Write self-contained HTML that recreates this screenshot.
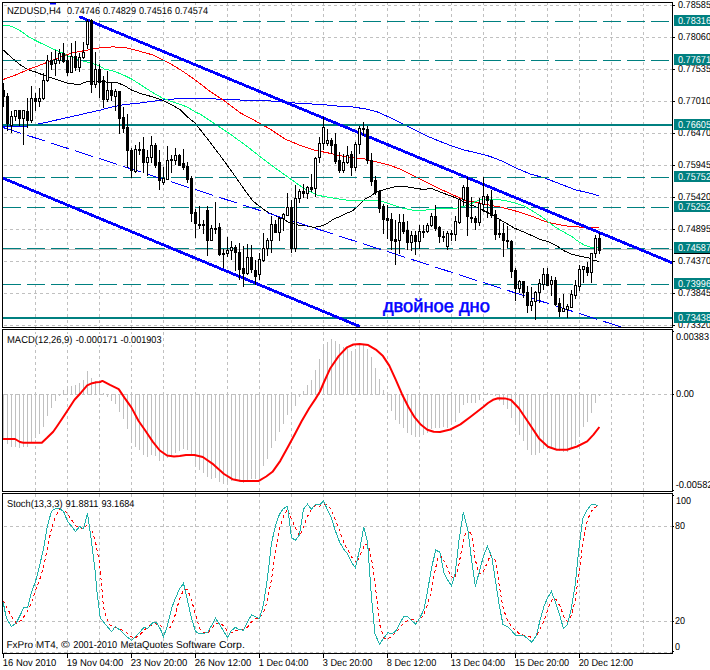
<!DOCTYPE html>
<html><head><meta charset="utf-8"><title>NZDUSD,H4</title>
<style>html,body{margin:0;padding:0;background:#fff;}body{width:710px;height:670px;overflow:hidden;font-family:"Liberation Sans", sans-serif;}svg{display:block}</style>
</head><body>
<svg width="710" height="670" viewBox="0 0 710 670" font-family='"Liberation Sans", sans-serif' font-size="10.0" text-rendering="geometricPrecision">
<rect x="0" y="0" width="710" height="670" fill="#fff"/>
<g stroke="#c0c0c0" stroke-width="1" stroke-dasharray="3 3" shape-rendering="crispEdges" fill="none">
<line x1="35.5" y1="2" x2="35.5" y2="653"/>
<line x1="67.5" y1="2" x2="67.5" y2="653"/>
<line x1="99.5" y1="2" x2="99.5" y2="653"/>
<line x1="131.5" y1="2" x2="131.5" y2="653"/>
<line x1="163.5" y1="2" x2="163.5" y2="653"/>
<line x1="195.5" y1="2" x2="195.5" y2="653"/>
<line x1="227.5" y1="2" x2="227.5" y2="653"/>
<line x1="259.5" y1="2" x2="259.5" y2="653"/>
<line x1="291.5" y1="2" x2="291.5" y2="653"/>
<line x1="323.5" y1="2" x2="323.5" y2="653"/>
<line x1="355.5" y1="2" x2="355.5" y2="653"/>
<line x1="387.5" y1="2" x2="387.5" y2="653"/>
<line x1="419.5" y1="2" x2="419.5" y2="653"/>
<line x1="451.5" y1="2" x2="451.5" y2="653"/>
<line x1="483.5" y1="2" x2="483.5" y2="653"/>
<line x1="515.5" y1="2" x2="515.5" y2="653"/>
<line x1="547.5" y1="2" x2="547.5" y2="653"/>
<line x1="579.5" y1="2" x2="579.5" y2="653"/>
<line x1="611.5" y1="2" x2="611.5" y2="653"/>
<line x1="643.5" y1="2" x2="643.5" y2="653"/>
<line x1="4" y1="5.5" x2="672" y2="5.5"/>
<line x1="4" y1="37.5" x2="672" y2="37.5"/>
<line x1="4" y1="69.5" x2="672" y2="69.5"/>
<line x1="4" y1="101.5" x2="672" y2="101.5"/>
<line x1="4" y1="133.5" x2="672" y2="133.5"/>
<line x1="4" y1="165.5" x2="672" y2="165.5"/>
<line x1="4" y1="197.5" x2="672" y2="197.5"/>
<line x1="4" y1="229.5" x2="672" y2="229.5"/>
<line x1="4" y1="261.5" x2="672" y2="261.5"/>
<line x1="4" y1="293.5" x2="672" y2="293.5"/>
<line x1="4" y1="325.5" x2="672" y2="325.5"/>
<line x1="4" y1="394.5" x2="672" y2="394.5"/>
<line x1="4" y1="526.5" x2="672" y2="526.5"/>
<line x1="4" y1="621.5" x2="672" y2="621.5"/>
<line x1="4" y1="652.5" x2="672" y2="652.5"/>
</g>
<clipPath id="cm"><rect x="3" y="3" width="669" height="324"/></clipPath>
<g clip-path="url(#cm)">
<rect x="3" y="249" width="669" height="1" fill="#c0c0c0"/>
<polyline points="3.0,126.5 28.0,126.0 34.0,125.0 41.0,123.4 50.0,121.5 60.0,119.2 70.0,117.0 80.0,114.7 90.0,112.4 100.0,110.2 110.0,107.4 124.4,104.6 138.6,103.2 152.7,101.3 164.0,99.9 175.4,98.9 186.8,98.5 200.0,98.2 220.0,99.2 245.0,100.2 270.0,100.9 290.0,102.7 310.0,103.9 330.0,105.2 340.0,106.3 352.5,107.0 365.0,108.8 377.6,112.0 390.0,117.6 402.7,123.8 415.0,130.1 427.7,136.4 440.0,141.4 452.8,146.4 465.0,150.2 478.0,153.2 490.0,156.4 503.0,161.4 515.0,167.6 530.0,173.9 545.0,178.1 560.0,183.9 575.0,189.7 587.7,192.7 599.0,195.7" fill="none" stroke="#0000ff" stroke-width="1" shape-rendering="crispEdges"/>
<polyline points="3.0,49.8 14.0,59.7 21.0,65.4 28.0,69.6 35.5,72.0 42.6,74.9 49.6,77.4 56.7,79.5 68.0,83.4 79.4,84.5 86.5,81.7 91.0,81.0 101.7,81.9 116.0,82.3 124.4,85.5 131.5,90.0 142.8,94.3 152.7,96.8 162.7,100.4 172.6,105.3 181.0,110.3 188.0,117.4 195.0,123.0 207.6,139.0 220.0,155.3 232.7,172.9 245.0,190.4 248.4,195.0 252.7,200.7 256.9,204.2 261.2,207.5 265.4,210.6 269.7,213.4 274.0,214.9 278.2,217.0 282.5,218.4 286.0,220.5 288.5,222.5 294.2,223.6 298.4,225.0 307.0,226.0 314.0,227.4 322.6,225.6 328.2,222.8 333.9,218.9 341.0,216.1 346.7,213.3 352.3,210.9 356.6,207.2 360.9,202.9 365.1,199.1 370.8,196.2 376.0,192.0 383.0,189.9 390.2,188.0 397.3,186.3 404.4,186.3 411.5,187.8 418.6,188.5 422.8,189.6 429.9,188.5 432.7,188.9 438.4,191.3 444.0,193.4 449.8,195.6 455.4,197.7 459.7,199.8 464.0,202.0 469.6,204.8 475.3,206.5 483.3,210.4 490.4,214.0 497.5,218.2 506.0,223.2 514.6,228.2 523.0,231.7 531.6,235.5 540.0,239.5 548.6,241.6 557.0,245.9 564.2,250.9 572.0,254.3 581.3,256.5 588.4,257.9 592.6,259.8 599.0,261.6" fill="none" stroke="#000" stroke-width="1" shape-rendering="crispEdges"/>
<polyline points="3.0,79.5 14.0,75.7 28.0,69.6 43.0,64.0 57.0,58.3 71.0,53.3 85.0,50.5 100.0,47.8 113.0,46.9 125.0,47.6 137.0,50.5 153.0,55.0 165.0,60.8 176.0,67.0 187.0,74.1 196.0,80.5 210.0,91.4 225.0,101.4 240.0,112.7 255.0,120.7 270.0,129.0 285.0,139.0 300.0,145.3 315.0,150.3 330.0,153.3 340.0,155.7 352.5,157.7 365.0,158.9 377.6,162.2 390.0,165.2 402.7,170.2 415.0,176.5 427.7,182.8 440.0,189.0 452.8,194.8 465.0,200.3 478.0,202.8 490.0,205.3 498.0,206.6 505.5,208.3 520.0,212.2 532.6,216.5 545.0,221.5 557.7,224.5 570.0,226.5 582.7,227.2 599.0,227.2" fill="none" stroke="#ff0000" stroke-width="1" shape-rendering="crispEdges"/>
<polyline points="3.0,25.2 12.0,26.3 21.0,31.3 28.0,36.3 35.5,40.5 42.6,44.0 49.6,47.3 56.7,50.5 63.8,53.6 68.0,55.9 76.6,59.0 85.0,61.5 92.0,63.2 99.0,65.8 104.5,69.1 114.4,71.3 124.4,75.5 133.0,79.8 142.8,86.2 152.7,92.6 162.7,98.2 172.6,101.8 181.0,104.6 188.0,107.4 196.0,112.4 200.0,114.0 215.0,124.0 230.0,134.0 245.0,144.8 260.0,156.6 275.0,167.9 290.0,178.6 305.0,189.2 318.0,195.4 333.0,198.0 348.0,200.4 365.0,200.8 377.6,200.5 381.7,201.2 390.2,204.1 401.5,207.9 412.9,210.2 424.2,210.2 435.6,209.0 446.9,208.6 455.4,208.3 465.0,206.0 472.0,203.3 477.7,200.5 482.0,199.0 493.0,199.0 504.6,200.5 514.6,202.9 524.5,206.2 531.6,210.4 540.0,215.7 548.6,222.2 557.0,228.2 565.6,233.1 572.0,236.5 577.0,240.6 584.0,244.9 589.8,247.0 594.0,247.4 599.0,247.4" fill="none" stroke="#00ff7f" stroke-width="1" shape-rendering="crispEdges"/>
<g stroke="#008080" stroke-width="1" stroke-dasharray="18 6" shape-rendering="crispEdges">
<line x1="3" y1="21.5" x2="672" y2="21.5"/>
<line x1="3" y1="60.5" x2="672" y2="60.5"/>
<line x1="3" y1="177.5" x2="672" y2="177.5"/>
<line x1="3" y1="207.5" x2="672" y2="207.5"/>
<line x1="3" y1="248.5" x2="672" y2="248.5"/>
<line x1="3" y1="284.5" x2="672" y2="284.5"/>
</g>
<rect x="3" y="124" width="669" height="2" fill="#008080"/>
<rect x="3" y="317" width="669" height="2" fill="#008080"/>
<path d="M3,127.50L21,133.31M27,135.25L45,141.06M51,143.00L69,148.81M75,150.74L93,156.55M99,158.49L117,164.30M123,166.24L141,172.05M147,173.99L165,179.80M171,181.73L189,187.54M195,189.48L213,195.29M219,197.23L237,203.04M243,204.98L261,210.79M267,212.72L285,218.53M291,220.47L309,226.28M315,228.22L333,234.03M339,235.97L357,241.78M363,243.71L381,249.52M387,251.46L405,257.27M411,259.21L429,265.02M435,266.96L453,272.77M459,274.70L477,280.51M483,282.45L501,288.26M507,290.20L525,296.01M531,297.95L549,303.76M555,305.69L573,311.50M579,313.44L597,319.25M603,321.19L621,327.00" stroke="#0000ff" stroke-width="1" fill="none" shape-rendering="crispEdges"/>
<line x1="79" y1="16.5" x2="672" y2="262.7" stroke="#0000ff" stroke-width="2.8" shape-rendering="crispEdges"/>
<line x1="3" y1="178.2" x2="359.7" y2="326.5" stroke="#0000ff" stroke-width="2.8" shape-rendering="crispEdges"/>
<rect x="50" y="3" width="6" height="1.5" fill="#0000ff"/>
<text x="382.9" y="311.6" font-size="18.3" fill="#0000ff" stroke="#0000ff" stroke-width="0.55">двойное дно</text>
<g shape-rendering="crispEdges">
<rect x="3" y="83" width="1" height="24" fill="#000"/>
<rect x="2" y="90" width="3" height="7" fill="#000"/>
<rect x="7" y="93" width="1" height="38" fill="#000"/>
<rect x="6" y="96" width="3" height="28" fill="#000"/>
<rect x="11" y="111" width="1" height="22" fill="#000"/>
<rect x="10" y="116" width="3" height="10" fill="#000"/>
<rect x="11" y="117" width="1" height="8" fill="#fff"/>
<rect x="15" y="110" width="1" height="11" fill="#000"/>
<rect x="14" y="110" width="3" height="7" fill="#000"/>
<rect x="15" y="111" width="1" height="5" fill="#fff"/>
<rect x="19" y="110" width="1" height="16" fill="#000"/>
<rect x="18" y="110" width="3" height="9" fill="#000"/>
<rect x="23" y="110" width="1" height="35" fill="#000"/>
<rect x="22" y="110" width="3" height="9" fill="#000"/>
<rect x="23" y="111" width="1" height="7" fill="#fff"/>
<rect x="27" y="98" width="1" height="30" fill="#000"/>
<rect x="26" y="111" width="3" height="10" fill="#000"/>
<rect x="31" y="86" width="1" height="37" fill="#000"/>
<rect x="30" y="98" width="3" height="23" fill="#000"/>
<rect x="31" y="99" width="1" height="21" fill="#fff"/>
<rect x="35" y="93" width="1" height="18" fill="#000"/>
<rect x="34" y="98" width="3" height="4" fill="#000"/>
<rect x="39" y="88" width="1" height="19" fill="#000"/>
<rect x="38" y="98" width="3" height="4" fill="#000"/>
<rect x="39" y="99" width="1" height="2" fill="#fff"/>
<rect x="43" y="73" width="1" height="27" fill="#000"/>
<rect x="42" y="80" width="3" height="19" fill="#000"/>
<rect x="43" y="81" width="1" height="17" fill="#fff"/>
<rect x="47" y="55" width="1" height="27" fill="#000"/>
<rect x="46" y="60" width="3" height="21" fill="#000"/>
<rect x="47" y="61" width="1" height="19" fill="#fff"/>
<rect x="51" y="52" width="1" height="18" fill="#000"/>
<rect x="50" y="60" width="3" height="5" fill="#000"/>
<rect x="55" y="50" width="1" height="26" fill="#000"/>
<rect x="54" y="59" width="3" height="5" fill="#000"/>
<rect x="55" y="60" width="1" height="3" fill="#fff"/>
<rect x="59" y="49" width="1" height="15" fill="#000"/>
<rect x="58" y="53" width="3" height="8" fill="#000"/>
<rect x="59" y="54" width="1" height="6" fill="#fff"/>
<rect x="63" y="43" width="1" height="20" fill="#000"/>
<rect x="62" y="53" width="3" height="9" fill="#000"/>
<rect x="67" y="55" width="1" height="21" fill="#000"/>
<rect x="66" y="60" width="3" height="13" fill="#000"/>
<rect x="71" y="43" width="1" height="30" fill="#000"/>
<rect x="70" y="56" width="3" height="17" fill="#000"/>
<rect x="71" y="57" width="1" height="15" fill="#fff"/>
<rect x="75" y="41" width="1" height="30" fill="#000"/>
<rect x="74" y="56" width="3" height="12" fill="#000"/>
<rect x="79" y="53" width="1" height="19" fill="#000"/>
<rect x="78" y="57" width="3" height="11" fill="#000"/>
<rect x="79" y="58" width="1" height="9" fill="#fff"/>
<rect x="83" y="42" width="1" height="17" fill="#000"/>
<rect x="82" y="52" width="3" height="6" fill="#000"/>
<rect x="83" y="53" width="1" height="4" fill="#fff"/>
<rect x="87" y="19" width="1" height="30" fill="#000"/>
<rect x="86" y="21" width="3" height="24" fill="#000"/>
<rect x="87" y="22" width="1" height="22" fill="#fff"/>
<rect x="91" y="19" width="1" height="74" fill="#000"/>
<rect x="90" y="20" width="3" height="65" fill="#000"/>
<rect x="95" y="52" width="1" height="36" fill="#000"/>
<rect x="94" y="69" width="3" height="16" fill="#000"/>
<rect x="95" y="70" width="1" height="14" fill="#fff"/>
<rect x="99" y="64" width="1" height="34" fill="#000"/>
<rect x="98" y="69" width="3" height="14" fill="#000"/>
<rect x="103" y="76" width="1" height="32" fill="#000"/>
<rect x="102" y="80" width="3" height="20" fill="#000"/>
<rect x="107" y="71" width="1" height="31" fill="#000"/>
<rect x="106" y="90" width="3" height="10" fill="#000"/>
<rect x="107" y="91" width="1" height="8" fill="#fff"/>
<rect x="111" y="83" width="1" height="18" fill="#000"/>
<rect x="110" y="90" width="3" height="6" fill="#000"/>
<rect x="115" y="89" width="1" height="22" fill="#000"/>
<rect x="114" y="91" width="3" height="6" fill="#000"/>
<rect x="115" y="92" width="1" height="4" fill="#fff"/>
<rect x="119" y="91" width="1" height="43" fill="#000"/>
<rect x="118" y="91" width="3" height="28" fill="#000"/>
<rect x="123" y="107" width="1" height="26" fill="#000"/>
<rect x="122" y="117" width="3" height="12" fill="#000"/>
<rect x="127" y="114" width="1" height="54" fill="#000"/>
<rect x="126" y="127" width="3" height="24" fill="#000"/>
<rect x="131" y="148" width="1" height="30" fill="#000"/>
<rect x="130" y="150" width="3" height="21" fill="#000"/>
<rect x="135" y="145" width="1" height="28" fill="#000"/>
<rect x="134" y="149" width="3" height="23" fill="#000"/>
<rect x="135" y="150" width="1" height="21" fill="#fff"/>
<rect x="139" y="142" width="1" height="13" fill="#000"/>
<rect x="138" y="149" width="3" height="2" fill="#000"/>
<rect x="143" y="137" width="1" height="36" fill="#000"/>
<rect x="142" y="149" width="3" height="14" fill="#000"/>
<rect x="147" y="150" width="1" height="26" fill="#000"/>
<rect x="146" y="157" width="3" height="6" fill="#000"/>
<rect x="147" y="158" width="1" height="4" fill="#fff"/>
<rect x="151" y="136" width="1" height="27" fill="#000"/>
<rect x="150" y="145" width="3" height="13" fill="#000"/>
<rect x="151" y="146" width="1" height="11" fill="#fff"/>
<rect x="155" y="143" width="1" height="25" fill="#000"/>
<rect x="154" y="145" width="3" height="21" fill="#000"/>
<rect x="159" y="150" width="1" height="40" fill="#000"/>
<rect x="158" y="162" width="3" height="19" fill="#000"/>
<rect x="163" y="167" width="1" height="18" fill="#000"/>
<rect x="162" y="178" width="3" height="5" fill="#000"/>
<rect x="163" y="179" width="1" height="3" fill="#fff"/>
<rect x="167" y="146" width="1" height="34" fill="#000"/>
<rect x="166" y="160" width="3" height="20" fill="#000"/>
<rect x="167" y="161" width="1" height="18" fill="#fff"/>
<rect x="171" y="155" width="1" height="18" fill="#000"/>
<rect x="170" y="159" width="3" height="2" fill="#000"/>
<rect x="175" y="148" width="1" height="17" fill="#000"/>
<rect x="174" y="155" width="3" height="6" fill="#000"/>
<rect x="175" y="156" width="1" height="4" fill="#fff"/>
<rect x="179" y="154" width="1" height="12" fill="#000"/>
<rect x="178" y="155" width="3" height="11" fill="#000"/>
<rect x="183" y="149" width="1" height="21" fill="#000"/>
<rect x="182" y="163" width="3" height="5" fill="#000"/>
<rect x="187" y="162" width="1" height="21" fill="#000"/>
<rect x="186" y="166" width="3" height="14" fill="#000"/>
<rect x="191" y="176" width="1" height="46" fill="#000"/>
<rect x="190" y="178" width="3" height="36" fill="#000"/>
<rect x="195" y="209" width="1" height="29" fill="#000"/>
<rect x="194" y="212" width="3" height="12" fill="#000"/>
<rect x="199" y="206" width="1" height="23" fill="#000"/>
<rect x="198" y="224" width="3" height="2" fill="#000"/>
<rect x="203" y="220" width="1" height="14" fill="#000"/>
<rect x="202" y="224" width="3" height="2" fill="#000"/>
<rect x="207" y="206" width="1" height="50" fill="#000"/>
<rect x="206" y="210" width="3" height="31" fill="#000"/>
<rect x="211" y="225" width="1" height="16" fill="#000"/>
<rect x="210" y="228" width="3" height="13" fill="#000"/>
<rect x="211" y="229" width="1" height="11" fill="#fff"/>
<rect x="215" y="202" width="1" height="32" fill="#000"/>
<rect x="214" y="228" width="3" height="2" fill="#000"/>
<rect x="219" y="223" width="1" height="33" fill="#000"/>
<rect x="218" y="227" width="3" height="28" fill="#000"/>
<rect x="223" y="249" width="1" height="19" fill="#000"/>
<rect x="222" y="253" width="3" height="2" fill="#000"/>
<rect x="227" y="237" width="1" height="20" fill="#000"/>
<rect x="226" y="250" width="3" height="4" fill="#000"/>
<rect x="227" y="251" width="1" height="2" fill="#fff"/>
<rect x="231" y="241" width="1" height="19" fill="#000"/>
<rect x="230" y="247" width="3" height="4" fill="#000"/>
<rect x="231" y="248" width="1" height="2" fill="#fff"/>
<rect x="235" y="245" width="1" height="26" fill="#000"/>
<rect x="234" y="247" width="3" height="6" fill="#000"/>
<rect x="239" y="243" width="1" height="37" fill="#000"/>
<rect x="238" y="252" width="3" height="18" fill="#000"/>
<rect x="243" y="246" width="1" height="41" fill="#000"/>
<rect x="242" y="268" width="3" height="6" fill="#000"/>
<rect x="247" y="244" width="1" height="31" fill="#000"/>
<rect x="246" y="257" width="3" height="17" fill="#000"/>
<rect x="247" y="258" width="1" height="15" fill="#fff"/>
<rect x="251" y="245" width="1" height="28" fill="#000"/>
<rect x="250" y="257" width="3" height="13" fill="#000"/>
<rect x="255" y="260" width="1" height="25" fill="#000"/>
<rect x="254" y="270" width="3" height="7" fill="#000"/>
<rect x="259" y="253" width="1" height="27" fill="#000"/>
<rect x="258" y="259" width="3" height="16" fill="#000"/>
<rect x="259" y="260" width="1" height="14" fill="#fff"/>
<rect x="263" y="233" width="1" height="29" fill="#000"/>
<rect x="262" y="248" width="3" height="13" fill="#000"/>
<rect x="263" y="249" width="1" height="11" fill="#fff"/>
<rect x="267" y="238" width="1" height="18" fill="#000"/>
<rect x="266" y="240" width="3" height="9" fill="#000"/>
<rect x="267" y="241" width="1" height="7" fill="#fff"/>
<rect x="271" y="216" width="1" height="37" fill="#000"/>
<rect x="270" y="224" width="3" height="17" fill="#000"/>
<rect x="271" y="225" width="1" height="15" fill="#fff"/>
<rect x="275" y="220" width="1" height="13" fill="#000"/>
<rect x="274" y="224" width="3" height="9" fill="#000"/>
<rect x="279" y="217" width="1" height="24" fill="#000"/>
<rect x="278" y="218" width="3" height="15" fill="#000"/>
<rect x="279" y="219" width="1" height="13" fill="#fff"/>
<rect x="283" y="213" width="1" height="18" fill="#000"/>
<rect x="282" y="214" width="3" height="5" fill="#000"/>
<rect x="283" y="215" width="1" height="3" fill="#fff"/>
<rect x="287" y="193" width="1" height="23" fill="#000"/>
<rect x="286" y="207" width="3" height="9" fill="#000"/>
<rect x="287" y="208" width="1" height="7" fill="#fff"/>
<rect x="291" y="200" width="1" height="53" fill="#000"/>
<rect x="290" y="207" width="3" height="42" fill="#000"/>
<rect x="295" y="185" width="1" height="67" fill="#000"/>
<rect x="294" y="198" width="3" height="51" fill="#000"/>
<rect x="295" y="199" width="1" height="49" fill="#fff"/>
<rect x="299" y="189" width="1" height="14" fill="#000"/>
<rect x="298" y="191" width="3" height="8" fill="#000"/>
<rect x="299" y="192" width="1" height="6" fill="#fff"/>
<rect x="303" y="184" width="1" height="14" fill="#000"/>
<rect x="302" y="191" width="3" height="3" fill="#000"/>
<rect x="307" y="186" width="1" height="13" fill="#000"/>
<rect x="306" y="187" width="3" height="7" fill="#000"/>
<rect x="307" y="188" width="1" height="5" fill="#fff"/>
<rect x="311" y="174" width="1" height="18" fill="#000"/>
<rect x="310" y="187" width="3" height="3" fill="#000"/>
<rect x="315" y="157" width="1" height="40" fill="#000"/>
<rect x="314" y="158" width="3" height="31" fill="#000"/>
<rect x="315" y="159" width="1" height="29" fill="#fff"/>
<rect x="319" y="137" width="1" height="26" fill="#000"/>
<rect x="318" y="143" width="3" height="15" fill="#000"/>
<rect x="319" y="144" width="1" height="13" fill="#fff"/>
<rect x="323" y="117" width="1" height="33" fill="#000"/>
<rect x="322" y="127" width="3" height="17" fill="#000"/>
<rect x="323" y="128" width="1" height="15" fill="#fff"/>
<rect x="327" y="129" width="1" height="17" fill="#000"/>
<rect x="326" y="140" width="3" height="4" fill="#000"/>
<rect x="327" y="141" width="1" height="2" fill="#fff"/>
<rect x="331" y="138" width="1" height="16" fill="#000"/>
<rect x="330" y="140" width="3" height="6" fill="#000"/>
<rect x="335" y="133" width="1" height="31" fill="#000"/>
<rect x="334" y="144" width="3" height="18" fill="#000"/>
<rect x="339" y="152" width="1" height="21" fill="#000"/>
<rect x="338" y="160" width="3" height="11" fill="#000"/>
<rect x="343" y="154" width="1" height="19" fill="#000"/>
<rect x="342" y="162" width="3" height="9" fill="#000"/>
<rect x="343" y="163" width="1" height="7" fill="#fff"/>
<rect x="347" y="146" width="1" height="18" fill="#000"/>
<rect x="346" y="155" width="3" height="8" fill="#000"/>
<rect x="347" y="156" width="1" height="6" fill="#fff"/>
<rect x="351" y="151" width="1" height="25" fill="#000"/>
<rect x="350" y="154" width="3" height="14" fill="#000"/>
<rect x="355" y="142" width="1" height="29" fill="#000"/>
<rect x="354" y="144" width="3" height="24" fill="#000"/>
<rect x="355" y="145" width="1" height="22" fill="#fff"/>
<rect x="359" y="126" width="1" height="28" fill="#000"/>
<rect x="358" y="128" width="3" height="17" fill="#000"/>
<rect x="359" y="129" width="1" height="15" fill="#fff"/>
<rect x="363" y="122" width="1" height="14" fill="#000"/>
<rect x="362" y="128" width="3" height="2" fill="#000"/>
<rect x="367" y="126" width="1" height="38" fill="#000"/>
<rect x="366" y="129" width="3" height="32" fill="#000"/>
<rect x="371" y="153" width="1" height="33" fill="#000"/>
<rect x="370" y="160" width="3" height="22" fill="#000"/>
<rect x="375" y="176" width="1" height="19" fill="#000"/>
<rect x="374" y="180" width="3" height="13" fill="#000"/>
<rect x="379" y="191" width="1" height="22" fill="#000"/>
<rect x="378" y="191" width="3" height="18" fill="#000"/>
<rect x="383" y="204" width="1" height="30" fill="#000"/>
<rect x="382" y="206" width="3" height="14" fill="#000"/>
<rect x="387" y="205" width="1" height="34" fill="#000"/>
<rect x="386" y="218" width="3" height="3" fill="#000"/>
<rect x="391" y="213" width="1" height="37" fill="#000"/>
<rect x="390" y="219" width="3" height="22" fill="#000"/>
<rect x="395" y="220" width="1" height="45" fill="#000"/>
<rect x="394" y="239" width="3" height="3" fill="#000"/>
<rect x="399" y="214" width="1" height="40" fill="#000"/>
<rect x="398" y="222" width="3" height="19" fill="#000"/>
<rect x="399" y="223" width="1" height="17" fill="#fff"/>
<rect x="403" y="214" width="1" height="20" fill="#000"/>
<rect x="402" y="222" width="3" height="10" fill="#000"/>
<rect x="407" y="221" width="1" height="29" fill="#000"/>
<rect x="406" y="230" width="3" height="13" fill="#000"/>
<rect x="411" y="231" width="1" height="20" fill="#000"/>
<rect x="410" y="235" width="3" height="8" fill="#000"/>
<rect x="411" y="236" width="1" height="6" fill="#fff"/>
<rect x="415" y="231" width="1" height="24" fill="#000"/>
<rect x="414" y="235" width="3" height="7" fill="#000"/>
<rect x="419" y="225" width="1" height="24" fill="#000"/>
<rect x="418" y="231" width="3" height="11" fill="#000"/>
<rect x="419" y="232" width="1" height="9" fill="#fff"/>
<rect x="423" y="225" width="1" height="13" fill="#000"/>
<rect x="422" y="231" width="3" height="2" fill="#000"/>
<rect x="427" y="223" width="1" height="10" fill="#000"/>
<rect x="426" y="225" width="3" height="7" fill="#000"/>
<rect x="427" y="226" width="1" height="5" fill="#fff"/>
<rect x="431" y="213" width="1" height="14" fill="#000"/>
<rect x="430" y="216" width="3" height="10" fill="#000"/>
<rect x="431" y="217" width="1" height="8" fill="#fff"/>
<rect x="435" y="205" width="1" height="26" fill="#000"/>
<rect x="434" y="216" width="3" height="13" fill="#000"/>
<rect x="439" y="226" width="1" height="17" fill="#000"/>
<rect x="438" y="227" width="3" height="10" fill="#000"/>
<rect x="443" y="231" width="1" height="11" fill="#000"/>
<rect x="442" y="236" width="3" height="2" fill="#000"/>
<rect x="447" y="231" width="1" height="19" fill="#000"/>
<rect x="446" y="233" width="3" height="14" fill="#000"/>
<rect x="447" y="234" width="1" height="12" fill="#fff"/>
<rect x="451" y="230" width="1" height="11" fill="#000"/>
<rect x="450" y="233" width="3" height="2" fill="#000"/>
<rect x="455" y="216" width="1" height="25" fill="#000"/>
<rect x="454" y="221" width="3" height="14" fill="#000"/>
<rect x="455" y="222" width="1" height="12" fill="#fff"/>
<rect x="459" y="198" width="1" height="26" fill="#000"/>
<rect x="458" y="199" width="3" height="24" fill="#000"/>
<rect x="459" y="200" width="1" height="22" fill="#fff"/>
<rect x="463" y="185" width="1" height="21" fill="#000"/>
<rect x="462" y="187" width="3" height="13" fill="#000"/>
<rect x="463" y="188" width="1" height="11" fill="#fff"/>
<rect x="467" y="177" width="1" height="59" fill="#000"/>
<rect x="466" y="187" width="3" height="30" fill="#000"/>
<rect x="471" y="197" width="1" height="26" fill="#000"/>
<rect x="470" y="217" width="3" height="2" fill="#000"/>
<rect x="475" y="216" width="1" height="14" fill="#000"/>
<rect x="474" y="218" width="3" height="5" fill="#000"/>
<rect x="479" y="198" width="1" height="28" fill="#000"/>
<rect x="478" y="203" width="3" height="20" fill="#000"/>
<rect x="479" y="204" width="1" height="18" fill="#fff"/>
<rect x="483" y="177" width="1" height="35" fill="#000"/>
<rect x="482" y="196" width="3" height="9" fill="#000"/>
<rect x="483" y="197" width="1" height="7" fill="#fff"/>
<rect x="487" y="194" width="1" height="24" fill="#000"/>
<rect x="486" y="196" width="3" height="5" fill="#000"/>
<rect x="491" y="190" width="1" height="28" fill="#000"/>
<rect x="490" y="200" width="3" height="16" fill="#000"/>
<rect x="495" y="210" width="1" height="30" fill="#000"/>
<rect x="494" y="214" width="3" height="21" fill="#000"/>
<rect x="499" y="219" width="1" height="19" fill="#000"/>
<rect x="498" y="233" width="3" height="2" fill="#000"/>
<rect x="503" y="223" width="1" height="34" fill="#000"/>
<rect x="502" y="233" width="3" height="8" fill="#000"/>
<rect x="507" y="226" width="1" height="22" fill="#000"/>
<rect x="506" y="240" width="3" height="2" fill="#000"/>
<rect x="511" y="240" width="1" height="38" fill="#000"/>
<rect x="510" y="241" width="3" height="31" fill="#000"/>
<rect x="515" y="268" width="1" height="33" fill="#000"/>
<rect x="514" y="270" width="3" height="19" fill="#000"/>
<rect x="519" y="280" width="1" height="13" fill="#000"/>
<rect x="518" y="281" width="3" height="8" fill="#000"/>
<rect x="519" y="282" width="1" height="6" fill="#fff"/>
<rect x="523" y="281" width="1" height="17" fill="#000"/>
<rect x="522" y="281" width="3" height="12" fill="#000"/>
<rect x="527" y="286" width="1" height="27" fill="#000"/>
<rect x="526" y="292" width="3" height="14" fill="#000"/>
<rect x="531" y="287" width="1" height="24" fill="#000"/>
<rect x="530" y="301" width="3" height="5" fill="#000"/>
<rect x="531" y="302" width="1" height="3" fill="#fff"/>
<rect x="535" y="291" width="1" height="29" fill="#000"/>
<rect x="534" y="292" width="3" height="10" fill="#000"/>
<rect x="535" y="293" width="1" height="8" fill="#fff"/>
<rect x="539" y="279" width="1" height="24" fill="#000"/>
<rect x="538" y="283" width="3" height="10" fill="#000"/>
<rect x="539" y="284" width="1" height="8" fill="#fff"/>
<rect x="543" y="268" width="1" height="22" fill="#000"/>
<rect x="542" y="274" width="3" height="11" fill="#000"/>
<rect x="543" y="275" width="1" height="9" fill="#fff"/>
<rect x="547" y="268" width="1" height="18" fill="#000"/>
<rect x="546" y="274" width="3" height="12" fill="#000"/>
<rect x="551" y="276" width="1" height="20" fill="#000"/>
<rect x="550" y="280" width="3" height="5" fill="#000"/>
<rect x="551" y="281" width="1" height="3" fill="#fff"/>
<rect x="555" y="277" width="1" height="29" fill="#000"/>
<rect x="554" y="280" width="3" height="25" fill="#000"/>
<rect x="559" y="298" width="1" height="19" fill="#000"/>
<rect x="558" y="303" width="3" height="9" fill="#000"/>
<rect x="563" y="294" width="1" height="18" fill="#000"/>
<rect x="562" y="308" width="3" height="4" fill="#000"/>
<rect x="563" y="309" width="1" height="2" fill="#fff"/>
<rect x="567" y="304" width="1" height="14" fill="#000"/>
<rect x="566" y="306" width="3" height="4" fill="#000"/>
<rect x="567" y="307" width="1" height="2" fill="#fff"/>
<rect x="571" y="290" width="1" height="18" fill="#000"/>
<rect x="570" y="294" width="3" height="14" fill="#000"/>
<rect x="571" y="295" width="1" height="12" fill="#fff"/>
<rect x="575" y="280" width="1" height="19" fill="#000"/>
<rect x="574" y="285" width="3" height="11" fill="#000"/>
<rect x="575" y="286" width="1" height="9" fill="#fff"/>
<rect x="579" y="265" width="1" height="26" fill="#000"/>
<rect x="578" y="269" width="3" height="18" fill="#000"/>
<rect x="579" y="270" width="1" height="16" fill="#fff"/>
<rect x="583" y="266" width="1" height="17" fill="#000"/>
<rect x="582" y="266" width="3" height="4" fill="#000"/>
<rect x="583" y="267" width="1" height="2" fill="#fff"/>
<rect x="587" y="262" width="1" height="14" fill="#000"/>
<rect x="586" y="267" width="3" height="6" fill="#000"/>
<rect x="591" y="253" width="1" height="30" fill="#000"/>
<rect x="590" y="253" width="3" height="20" fill="#000"/>
<rect x="591" y="254" width="1" height="18" fill="#fff"/>
<rect x="595" y="235" width="1" height="23" fill="#000"/>
<rect x="594" y="238" width="3" height="16" fill="#000"/>
<rect x="595" y="239" width="1" height="14" fill="#fff"/>
<rect x="599" y="233" width="1" height="21" fill="#000"/>
<rect x="598" y="238" width="3" height="13" fill="#000"/>
</g>
</g>
<clipPath id="c2"><rect x="3" y="330" width="669" height="161"/></clipPath>
<g clip-path="url(#c2)">
<g shape-rendering="crispEdges" fill="#c0c0c0">
<rect x="3" y="394" width="1" height="46"/>
<rect x="7" y="394" width="1" height="50"/>
<rect x="11" y="394" width="1" height="53"/>
<rect x="15" y="394" width="1" height="53"/>
<rect x="19" y="394" width="1" height="54"/>
<rect x="23" y="394" width="1" height="53"/>
<rect x="27" y="394" width="1" height="53"/>
<rect x="31" y="394" width="1" height="49"/>
<rect x="35" y="394" width="1" height="44"/>
<rect x="39" y="394" width="1" height="40"/>
<rect x="43" y="394" width="1" height="33"/>
<rect x="47" y="394" width="1" height="22"/>
<rect x="51" y="394" width="1" height="14"/>
<rect x="55" y="394" width="1" height="7"/>
<rect x="59" y="394" width="1" height="2"/>
<rect x="63" y="390" width="1" height="5"/>
<rect x="67" y="386" width="1" height="9"/>
<rect x="71" y="386" width="1" height="9"/>
<rect x="75" y="385" width="1" height="10"/>
<rect x="79" y="383" width="1" height="12"/>
<rect x="83" y="380" width="1" height="15"/>
<rect x="87" y="371" width="1" height="24"/>
<rect x="91" y="378" width="1" height="17"/>
<rect x="95" y="381" width="1" height="14"/>
<rect x="99" y="383" width="1" height="12"/>
<rect x="103" y="393" width="1" height="2"/>
<rect x="107" y="394" width="1" height="3"/>
<rect x="111" y="394" width="1" height="7"/>
<rect x="115" y="394" width="1" height="10"/>
<rect x="119" y="394" width="1" height="18"/>
<rect x="123" y="394" width="1" height="25"/>
<rect x="127" y="394" width="1" height="35"/>
<rect x="131" y="394" width="1" height="49"/>
<rect x="135" y="394" width="1" height="53"/>
<rect x="139" y="394" width="1" height="56"/>
<rect x="143" y="394" width="1" height="61"/>
<rect x="147" y="394" width="1" height="63"/>
<rect x="151" y="394" width="1" height="61"/>
<rect x="155" y="394" width="1" height="62"/>
<rect x="159" y="394" width="1" height="67"/>
<rect x="163" y="394" width="1" height="64"/>
<rect x="167" y="394" width="1" height="64"/>
<rect x="171" y="394" width="1" height="62"/>
<rect x="175" y="394" width="1" height="59"/>
<rect x="179" y="394" width="1" height="57"/>
<rect x="183" y="394" width="1" height="55"/>
<rect x="187" y="394" width="1" height="56"/>
<rect x="191" y="394" width="1" height="61"/>
<rect x="195" y="394" width="1" height="70"/>
<rect x="199" y="394" width="1" height="76"/>
<rect x="203" y="394" width="1" height="79"/>
<rect x="207" y="394" width="1" height="83"/>
<rect x="211" y="394" width="1" height="85"/>
<rect x="215" y="394" width="1" height="84"/>
<rect x="219" y="394" width="1" height="88"/>
<rect x="223" y="394" width="1" height="90"/>
<rect x="227" y="394" width="1" height="88"/>
<rect x="231" y="394" width="1" height="87"/>
<rect x="235" y="394" width="1" height="87"/>
<rect x="239" y="394" width="1" height="88"/>
<rect x="243" y="394" width="1" height="89"/>
<rect x="247" y="394" width="1" height="87"/>
<rect x="251" y="394" width="1" height="85"/>
<rect x="255" y="394" width="1" height="85"/>
<rect x="259" y="394" width="1" height="84"/>
<rect x="263" y="394" width="1" height="72"/>
<rect x="267" y="394" width="1" height="65"/>
<rect x="271" y="394" width="1" height="54"/>
<rect x="275" y="394" width="1" height="47"/>
<rect x="279" y="394" width="1" height="38"/>
<rect x="283" y="394" width="1" height="30"/>
<rect x="287" y="394" width="1" height="21"/>
<rect x="291" y="394" width="1" height="16"/>
<rect x="295" y="394" width="1" height="12"/>
<rect x="299" y="394" width="1" height="3"/>
<rect x="303" y="391" width="1" height="4"/>
<rect x="307" y="385" width="1" height="10"/>
<rect x="311" y="380" width="1" height="15"/>
<rect x="315" y="370" width="1" height="25"/>
<rect x="319" y="359" width="1" height="36"/>
<rect x="323" y="344" width="1" height="51"/>
<rect x="327" y="342" width="1" height="53"/>
<rect x="331" y="339" width="1" height="56"/>
<rect x="335" y="341" width="1" height="54"/>
<rect x="339" y="344" width="1" height="51"/>
<rect x="343" y="347" width="1" height="48"/>
<rect x="347" y="348" width="1" height="47"/>
<rect x="351" y="351" width="1" height="44"/>
<rect x="355" y="349" width="1" height="46"/>
<rect x="359" y="345" width="1" height="50"/>
<rect x="363" y="344" width="1" height="51"/>
<rect x="367" y="349" width="1" height="46"/>
<rect x="371" y="357" width="1" height="38"/>
<rect x="375" y="368" width="1" height="27"/>
<rect x="379" y="379" width="1" height="16"/>
<rect x="383" y="390" width="1" height="5"/>
<rect x="387" y="394" width="1" height="5"/>
<rect x="391" y="394" width="1" height="17"/>
<rect x="395" y="394" width="1" height="26"/>
<rect x="399" y="394" width="1" height="30"/>
<rect x="403" y="394" width="1" height="34"/>
<rect x="407" y="394" width="1" height="39"/>
<rect x="411" y="394" width="1" height="41"/>
<rect x="415" y="394" width="1" height="43"/>
<rect x="419" y="394" width="1" height="43"/>
<rect x="423" y="394" width="1" height="41"/>
<rect x="427" y="394" width="1" height="39"/>
<rect x="431" y="394" width="1" height="35"/>
<rect x="435" y="394" width="1" height="34"/>
<rect x="439" y="394" width="1" height="34"/>
<rect x="443" y="394" width="1" height="33"/>
<rect x="447" y="394" width="1" height="34"/>
<rect x="451" y="394" width="1" height="31"/>
<rect x="455" y="394" width="1" height="28"/>
<rect x="459" y="394" width="1" height="19"/>
<rect x="463" y="394" width="1" height="11"/>
<rect x="467" y="394" width="1" height="9"/>
<rect x="471" y="394" width="1" height="9"/>
<rect x="475" y="394" width="1" height="9"/>
<rect x="479" y="394" width="1" height="6"/>
<rect x="483" y="392" width="1" height="3"/>
<rect x="487" y="393" width="1" height="2"/>
<rect x="491" y="394" width="1" height="1"/>
<rect x="495" y="394" width="1" height="2"/>
<rect x="499" y="394" width="1" height="7"/>
<rect x="503" y="394" width="1" height="11"/>
<rect x="507" y="394" width="1" height="15"/>
<rect x="511" y="394" width="1" height="24"/>
<rect x="515" y="394" width="1" height="31"/>
<rect x="519" y="394" width="1" height="41"/>
<rect x="523" y="394" width="1" height="47"/>
<rect x="527" y="394" width="1" height="56"/>
<rect x="531" y="394" width="1" height="61"/>
<rect x="535" y="394" width="1" height="61"/>
<rect x="539" y="394" width="1" height="59"/>
<rect x="543" y="394" width="1" height="55"/>
<rect x="547" y="394" width="1" height="55"/>
<rect x="551" y="394" width="1" height="55"/>
<rect x="555" y="394" width="1" height="55"/>
<rect x="559" y="394" width="1" height="57"/>
<rect x="563" y="394" width="1" height="58"/>
<rect x="567" y="394" width="1" height="58"/>
<rect x="571" y="394" width="1" height="55"/>
<rect x="575" y="394" width="1" height="51"/>
<rect x="579" y="394" width="1" height="43"/>
<rect x="583" y="394" width="1" height="33"/>
<rect x="587" y="394" width="1" height="28"/>
<rect x="591" y="394" width="1" height="19"/>
<rect x="595" y="394" width="1" height="9"/>
<rect x="599" y="394" width="1" height="2"/>
</g>
<polyline points="3.0,439.0 15.0,439.0 20.0,442.0 23.4,442.7 41.8,442.7 46.8,438.0 53.2,431.7 56.7,426.7 62.4,418.2 68.0,409.7 74.5,399.8 81.0,392.7 87.2,385.3 92.2,383.2 96.5,382.3 100.0,382.0 102.4,380.9 110.0,384.9 118.7,389.1 124.4,397.6 131.5,407.6 138.6,421.0 145.6,431.0 152.7,441.6 159.8,450.5 167.0,455.5 174.0,456.5 179.7,456.1 185.9,455.0 194.4,455.0 202.8,457.0 213.4,464.4 224.0,474.0 232.4,479.2 240.9,480.9 258.8,480.9 266.2,476.5 272.5,471.8 280.3,460.8 287.9,447.1 294.0,435.7 301.6,421.2 309.2,408.3 315.3,399.1 320.0,391.5 323.8,382.5 330.0,368.8 338.6,356.1 347.0,347.3 353.4,344.5 359.7,343.9 368.2,345.1 376.6,350.2 383.0,356.1 389.3,365.6 395.6,379.4 402.0,394.2 408.3,406.8 414.7,417.4 421.0,424.8 427.3,429.7 433.7,431.8 440.0,432.0 450.3,429.5 460.4,424.4 470.6,416.8 483.2,407.0 488.0,403.0 493.0,399.8 498.0,398.3 505.0,398.4 511.0,400.0 518.7,408.0 529.0,423.2 539.0,438.4 548.0,446.8 556.8,449.8 567.0,449.8 577.0,446.5 587.2,441.4 593.5,434.6 599.4,427.0" fill="none" stroke="#ff0000" stroke-width="2" stroke-linejoin="round"/>
</g>
<clipPath id="c3"><rect x="3" y="494" width="669" height="159"/></clipPath>
<g clip-path="url(#c3)">
<polyline points="2.8,600.4 6.4,606.8 9.9,613.2 13.5,619.6 17.0,623.4 21.3,620.3 26.2,613.2 29.8,606.8 31.9,601.1 35.5,590.0 39.5,580.1 43.5,567.3 47.5,547.5 51.5,528.3 55.5,516.3 59.5,509.9 63.5,509.2 67.5,514.1 71.5,519.8 75.5,525.9 79.5,526.9 83.5,529.3 87.5,524.1 91.5,529.8 95.5,541.8 99.5,562.4 103.5,607.0 106.5,617.8 110.3,625.4 115.3,627.4 120.3,629.1 125.3,631.6 130.4,636.6 135.4,637.9 140.4,634.1 145.4,629.1 150.4,625.4 155.4,623.6 160.4,625.4 165.5,630.4 170.5,627.4 175.5,614.3 179.5,598.8 183.5,590.4 187.5,589.6 191.5,600.2 195.5,614.3 199.5,628.4 203.5,632.6 207.5,633.3 211.5,629.1 215.5,623.5 219.5,622.7 223.5,625.6 227.5,631.2 231.5,632.6 235.5,630.5 239.5,629.8 243.5,629.5 247.5,627.0 251.5,622.0 255.5,618.5 259.5,617.8 263.5,612.9 267.5,600.2 271.5,579.1 275.5,551.7 279.5,528.3 283.5,516.3 287.5,509.2 291.5,519.1 295.5,527.6 299.5,536.1 303.5,526.9 307.5,516.3 311.5,509.2 315.5,505.2 319.5,506.1 323.5,503.8 327.5,505.2 331.5,509.9 335.5,520.5 339.5,530.5 343.5,541.8 347.5,549.6 351.5,556.7 353.8,560.2 357.0,562.7 361.3,552.7 365.0,543.9 368.8,546.4 372.6,565.2 376.4,595.3 380.0,625.4 383.9,637.9 387.6,639.2 392.6,635.4 397.7,630.4 402.7,624.1 407.7,620.4 412.7,619.1 417.7,621.6 422.7,616.6 426.5,607.8 430.2,595.3 434.0,575.2 437.8,558.9 440.8,555.7 445.3,562.7 450.3,575.2 454.0,579.0 457.8,570.2 461.6,550.2 464.8,535.1 467.9,528.9 471.6,535.1 475.4,560.2 479.0,574.0 482.9,572.7 486.7,563.9 490.4,555.2 495.4,560.2 499.2,585.3 502.5,605.3 506.3,617.8 511.3,626.6 515.5,630.4 520.0,634.1 525.0,635.9 530.0,636.6 533.8,639.2 537.6,634.1 541.4,626.6 545.0,617.8 548.9,606.6 552.6,599.0 556.4,599.8 560.2,606.6 563.9,616.6 567.7,621.6 571.4,615.3 575.2,600.3 579.0,572.7 582.7,545.2 586.5,523.8 590.2,513.1 594.0,508.0 598.5,505.5" fill="none" stroke="#ff0000" stroke-width="1" stroke-dasharray="3 3" shape-rendering="crispEdges"/>
<polyline points="3.0,601.6 6.3,617.8 11.3,626.6 16.3,622.9 23.8,607.8 27.6,607.8 31.3,592.8 35.5,581.5 39.5,565.9 43.5,548.9 47.5,525.5 51.5,511.3 55.5,508.5 59.5,508.5 63.5,511.3 67.5,521.2 71.5,526.2 75.5,531.6 79.5,526.5 83.5,528.8 87.5,513.4 91.5,541.8 95.5,574.4 96.5,587.8 100.3,617.8 105.3,624.1 111.6,631.6 115.3,626.6 120.3,630.4 125.3,635.4 131.6,640.4 137.9,634.1 144.1,627.4 147.9,628.4 152.9,622.4 156.7,622.9 160.4,629.1 163.5,636.6 166.7,627.9 171.7,607.8 175.5,598.1 179.5,588.9 183.5,583.3 187.5,600.2 191.5,618.5 195.5,631.2 199.5,634.0 203.5,633.3 207.5,632.6 211.5,625.6 215.5,618.2 219.5,624.2 223.5,631.2 227.5,637.5 231.5,630.5 235.5,627.3 239.5,629.8 243.5,630.1 247.5,622.0 251.5,615.0 255.5,616.8 259.5,618.5 263.5,604.4 267.5,577.7 271.5,543.2 275.5,525.5 279.5,514.1 283.5,508.5 287.5,506.3 291.5,537.6 295.5,540.4 299.5,534.7 303.5,509.2 307.5,504.2 311.5,509.2 315.5,504.2 319.5,504.9 323.5,501.0 327.5,509.9 331.5,518.4 335.5,531.2 339.5,541.8 343.5,548.9 347.5,553.9 351.5,562.4 355.5,567.8 360.0,547.7 363.8,527.1 367.6,542.6 371.3,595.3 375.0,634.1 379.6,644.2 383.9,637.9 387.6,632.9 392.6,633.4 396.4,630.4 400.0,622.9 403.9,616.6 407.7,616.6 411.4,620.4 415.7,624.1 420.0,617.8 424.0,609.1 427.7,590.3 431.5,567.7 435.8,550.2 439.8,552.2 444.0,572.7 447.8,580.2 451.6,585.8 455.3,572.7 459.0,540.1 463.3,512.6 467.9,530.1 471.6,560.2 475.4,586.5 479.0,572.7 483.4,556.4 487.4,546.4 491.7,556.4 495.4,580.2 499.2,605.3 503.0,624.5 507.0,626.3 511.0,630.0 515.5,635.2 523.8,635.9 527.6,638.4 531.8,642.4 536.4,635.4 540.0,620.4 543.9,606.6 547.6,597.8 551.4,591.5 555.7,602.8 559.7,615.3 563.4,628.4 567.2,624.9 571.0,610.3 575.2,585.3 579.0,547.7 582.7,518.8 586.5,510.6 591.5,504.5 595.3,504.5 598.5,506.5" fill="none" stroke="#20b2aa" stroke-width="1" shape-rendering="crispEdges"/>
</g>
<g fill="#000" shape-rendering="crispEdges">
<rect x="2" y="2" width="671" height="1"/>
<rect x="2" y="327" width="671" height="1"/>
<rect x="2" y="2" width="1" height="326"/>
<rect x="672" y="2" width="1" height="326"/>
<rect x="2" y="329" width="671" height="1"/>
<rect x="2" y="491" width="671" height="1"/>
<rect x="2" y="329" width="1" height="163"/>
<rect x="672" y="329" width="1" height="163"/>
<rect x="2" y="493" width="671" height="1"/>
<rect x="2" y="653" width="671" height="1"/>
<rect x="2" y="493" width="1" height="161"/>
<rect x="672" y="493" width="1" height="161"/>
<rect x="673" y="5" width="2" height="1"/>
<rect x="673" y="37" width="2" height="1"/>
<rect x="673" y="69" width="2" height="1"/>
<rect x="673" y="101" width="2" height="1"/>
<rect x="673" y="133" width="2" height="1"/>
<rect x="673" y="165" width="2" height="1"/>
<rect x="673" y="197" width="2" height="1"/>
<rect x="673" y="229" width="2" height="1"/>
<rect x="673" y="261" width="2" height="1"/>
<rect x="673" y="293" width="2" height="1"/>
<rect x="673" y="325" width="2" height="1"/>
<rect x="673" y="331" width="1" height="1"/>
<rect x="673" y="394" width="1" height="1"/>
<rect x="673" y="490" width="1" height="1"/>
<rect x="673" y="495" width="1" height="1"/>
<rect x="673" y="526" width="1" height="1"/>
<rect x="673" y="621" width="1" height="1"/>
<rect x="673" y="651" width="1" height="1"/>
<rect x="3" y="654" width="1" height="4"/>
<rect x="67" y="654" width="1" height="4"/>
<rect x="131" y="654" width="1" height="4"/>
<rect x="195" y="654" width="1" height="4"/>
<rect x="259" y="654" width="1" height="4"/>
<rect x="323" y="654" width="1" height="4"/>
<rect x="387" y="654" width="1" height="4"/>
<rect x="451" y="654" width="1" height="4"/>
<rect x="515" y="654" width="1" height="4"/>
<rect x="579" y="654" width="1" height="4"/>
</g>
<g fill="#000">
<rect x="7" y="5" width="202" height="11" fill="#fff"/>
<text x="7" y="14" textLength="54" lengthAdjust="spacingAndGlyphs">NZDUSD,H4</text>
<text x="67" y="14" textLength="33" lengthAdjust="spacingAndGlyphs">0.74746</text>
<text x="103" y="14" textLength="33" lengthAdjust="spacingAndGlyphs">0.74829</text>
<text x="139" y="14" textLength="33" lengthAdjust="spacingAndGlyphs">0.74516</text>
<text x="175" y="14" textLength="33" lengthAdjust="spacingAndGlyphs">0.74574</text>
<rect x="7" y="334" width="155" height="11" fill="#fff"/>
<text x="7" y="343" textLength="65.5" lengthAdjust="spacingAndGlyphs">MACD(12,26,9)</text>
<text x="75.7" y="343" textLength="42" lengthAdjust="spacingAndGlyphs">-0.000171</text>
<text x="120.5" y="343" textLength="41" lengthAdjust="spacingAndGlyphs">-0.001903</text>
<rect x="7" y="498" width="128" height="10" fill="#fff"/>
<text x="7" y="507" textLength="55.5" lengthAdjust="spacingAndGlyphs">Stoch(13,3,3)</text>
<text x="65.5" y="507" textLength="33" lengthAdjust="spacingAndGlyphs">91.8811</text>
<text x="101.4" y="507" textLength="33" lengthAdjust="spacingAndGlyphs">93.1684</text>
<text x="6.5" y="648" textLength="26.6" lengthAdjust="spacingAndGlyphs">FxPro</text>
<text x="36" y="648" textLength="22.3" lengthAdjust="spacingAndGlyphs">MT4,</text>
<text x="61.0" y="648" textLength="8.8" lengthAdjust="spacingAndGlyphs">©</text>
<text x="73.3" y="648" textLength="43.8" lengthAdjust="spacingAndGlyphs">2001-2010</text>
<text x="120.6" y="648" textLength="52.4" lengthAdjust="spacingAndGlyphs">MetaQuotes</text>
<text x="176.0" y="648" textLength="39.9" lengthAdjust="spacingAndGlyphs">Software</text>
<text x="219.1" y="648" textLength="25.8" lengthAdjust="spacingAndGlyphs">Corp.</text>
<text x="678" y="8" textLength="33" lengthAdjust="spacingAndGlyphs">0.78585</text>
<text x="678" y="40" textLength="33" lengthAdjust="spacingAndGlyphs">0.78060</text>
<text x="678" y="72" textLength="33" lengthAdjust="spacingAndGlyphs">0.77535</text>
<text x="678" y="104" textLength="33" lengthAdjust="spacingAndGlyphs">0.77010</text>
<text x="678" y="136" textLength="33" lengthAdjust="spacingAndGlyphs">0.76470</text>
<text x="678" y="168" textLength="33" lengthAdjust="spacingAndGlyphs">0.75945</text>
<text x="678" y="200" textLength="33" lengthAdjust="spacingAndGlyphs">0.75420</text>
<text x="678" y="232" textLength="33" lengthAdjust="spacingAndGlyphs">0.74895</text>
<text x="678" y="264" textLength="33" lengthAdjust="spacingAndGlyphs">0.74370</text>
<text x="678" y="296" textLength="33" lengthAdjust="spacingAndGlyphs">0.73845</text>
<text x="678" y="328" textLength="33" lengthAdjust="spacingAndGlyphs">0.73320</text>
<text x="676" y="340" textLength="33" lengthAdjust="spacingAndGlyphs">0.00383</text>
<text x="676" y="397" textLength="18" lengthAdjust="spacingAndGlyphs">0.00</text>
<text x="675.7" y="488" textLength="37" lengthAdjust="spacingAndGlyphs">-0.00582</text>
<text x="676" y="504" textLength="15" lengthAdjust="spacingAndGlyphs">100</text>
<text x="675" y="529" textLength="10" lengthAdjust="spacingAndGlyphs">80</text>
<text x="675" y="624" textLength="10" lengthAdjust="spacingAndGlyphs">20</text>
<text x="675" y="650" textLength="5" lengthAdjust="spacingAndGlyphs">0</text>
<text x="2.8" y="666" textLength="53.5" lengthAdjust="spacingAndGlyphs">16 Nov 2010</text>
<text x="66.8" y="666" textLength="56.5" lengthAdjust="spacingAndGlyphs">19 Nov 04:00</text>
<text x="130.8" y="666" textLength="56.5" lengthAdjust="spacingAndGlyphs">23 Nov 20:00</text>
<text x="194.8" y="666" textLength="56.5" lengthAdjust="spacingAndGlyphs">26 Nov 12:00</text>
<text x="258.8" y="666" textLength="49.5" lengthAdjust="spacingAndGlyphs">1 Dec 04:00</text>
<text x="322.8" y="666" textLength="49.5" lengthAdjust="spacingAndGlyphs">3 Dec 20:00</text>
<text x="386.8" y="666" textLength="49.5" lengthAdjust="spacingAndGlyphs">8 Dec 12:00</text>
<text x="450.8" y="666" textLength="54.3" lengthAdjust="spacingAndGlyphs">13 Dec 04:00</text>
<text x="514.8" y="666" textLength="54.3" lengthAdjust="spacingAndGlyphs">15 Dec 20:00</text>
<text x="578.8" y="666" textLength="54.3" lengthAdjust="spacingAndGlyphs">20 Dec 12:00</text>
</g>
<rect x="674" y="243" width="36" height="11" fill="#000"/>
<rect x="674" y="15" width="36" height="11" fill="#008080"/>
<text x="678" y="24" textLength="33" lengthAdjust="spacingAndGlyphs" fill="#fff">0.78316</text>
<rect x="674" y="54" width="36" height="11" fill="#008080"/>
<text x="678" y="63" textLength="33" lengthAdjust="spacingAndGlyphs" fill="#fff">0.77671</text>
<rect x="674" y="119" width="36" height="11" fill="#008080"/>
<text x="678" y="128" textLength="33" lengthAdjust="spacingAndGlyphs" fill="#fff">0.76605</text>
<rect x="674" y="171" width="36" height="11" fill="#008080"/>
<text x="678" y="180" textLength="33" lengthAdjust="spacingAndGlyphs" fill="#fff">0.75752</text>
<rect x="674" y="201" width="36" height="11" fill="#008080"/>
<text x="678" y="210" textLength="33" lengthAdjust="spacingAndGlyphs" fill="#fff">0.75252</text>
<rect x="674" y="242" width="36" height="11" fill="#008080"/>
<text x="678" y="251" textLength="33" lengthAdjust="spacingAndGlyphs" fill="#fff">0.74587</text>
<rect x="674" y="278" width="36" height="11" fill="#008080"/>
<text x="678" y="287" textLength="33" lengthAdjust="spacingAndGlyphs" fill="#fff">0.73996</text>
<rect x="674" y="312" width="36" height="11" fill="#008080"/>
<text x="678" y="321" textLength="33" lengthAdjust="spacingAndGlyphs" fill="#fff">0.73438</text>
</svg>
</body></html>
